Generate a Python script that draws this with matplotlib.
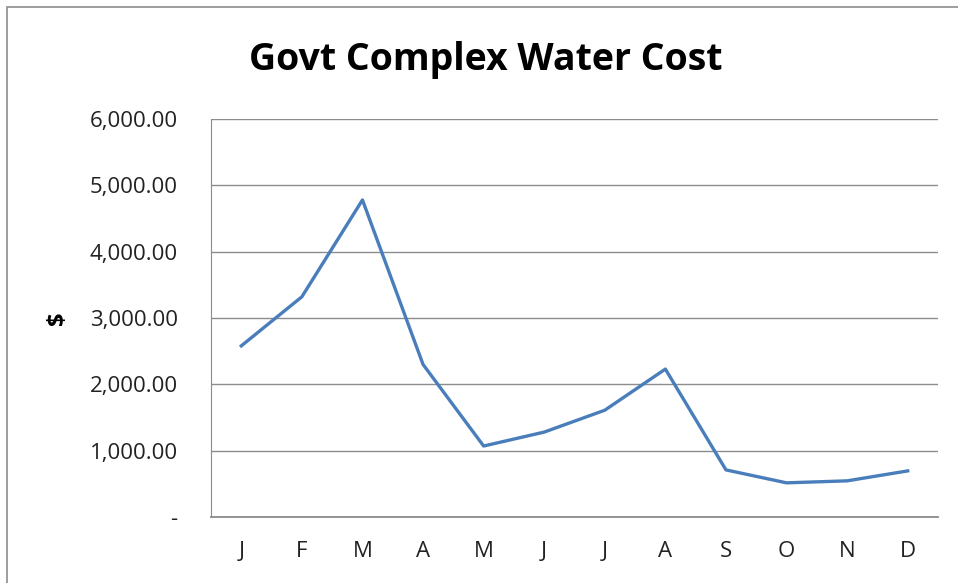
import matplotlib.pyplot as plt
from matplotlib.patches import Rectangle

# --- DATA ---
months = ['J', 'F', 'M', 'A', 'M', 'J', 'J', 'A', 'S', 'O', 'N', 'D']
cost = [2580, 3320, 4780, 2300, 1070, 1280, 1610, 2230, 710, 515, 545, 695]
yticks = [0, 1000, 2000, 3000, 4000, 5000, 6000]
ylabels = ['-'] + [f"{v:,.2f}" for v in yticks[1:]]

plt.rcParams['font.family'] = ['Open Sans', 'DejaVu Sans']

fig = plt.figure(figsize=(9.58, 5.83), dpi=100)
ax = fig.add_axes([211/958, 1 - 517/583, 727/958, 398/583])

x = list(range(len(months)))
ax.plot(x, cost, color='#4a7ebb', lw=2.4, solid_joinstyle='round')

ax.set_xlim(-0.5, len(months) - 0.5)
ax.set_ylim(0, 6000)
ax.set_xticks(x)
ax.set_xticklabels(months)
ax.set_yticks(yticks)
ax.set_yticklabels(ylabels)
ax.tick_params(axis='both', length=0, labelsize=16, colors='#222222')
ax.tick_params(axis='x', pad=17)
ax.tick_params(axis='y', pad=24)

ax.grid(axis='y', color='#8c8c8c', lw=1)
ax.set_axisbelow(True)
for s in ['top', 'right']:
    ax.spines[s].set_visible(False)
ax.spines['left'].set_color('#8c8c8c')
ax.spines['bottom'].set_color('#8c8c8c')
ax.spines['bottom'].set_linewidth(1.3)

ax.set_ylabel('$', fontsize=17, fontweight='bold', labelpad=14)

fig.text(486/958, 1 - 60/583, 'Govt Complex Water Cost', ha='center', va='center',
         fontsize=27, fontweight='bold')

# outer chart border
fig.patches.append(Rectangle((7/958, -0.05), 1.2, 1 - 7/583 + 0.05, transform=fig.transFigure,
                             fill=False, edgecolor='#8c8c8c', lw=1.2))

fig.savefig('out.png', dpi=100)
